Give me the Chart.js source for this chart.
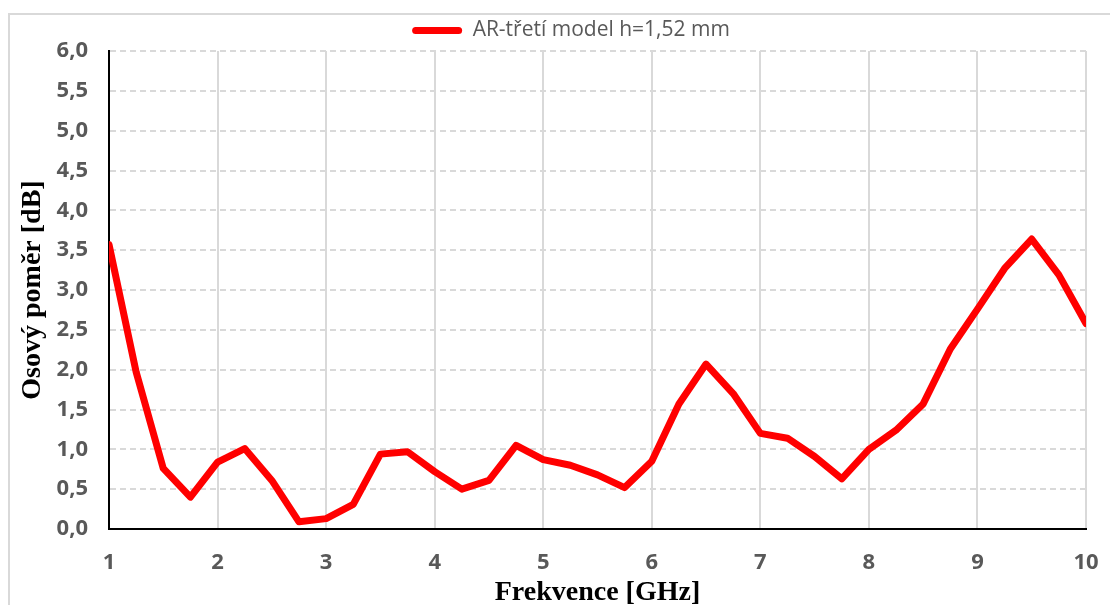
<!DOCTYPE html>
<html>
<head>
<meta charset="utf-8">
<title>Osový poměr</title>
<script src="https://cdn.jsdelivr.net/npm/chart.js@4.4.0/dist/chart.umd.min.js"></script>
<style>
  html, body { margin: 0; padding: 0; background: #fff; }
  #wrap { position: relative; width: 1110px; height: 605px; overflow: hidden; }
  #frame { position: absolute; left: 8px; top: 13px; width: 1200px; height: 700px; border: 2px solid #d9d9d9; box-sizing: border-box; }
  #arChart { position: absolute; left: 0; top: 0; }
</style>
</head>
<body>
<div id="wrap">
  <div id="frame"></div>
  <canvas id="arChart" width="1110" height="605"></canvas>
</div>
<script>
// Data
const seriesName = 'AR-třetí model h=1,52 mm';
const frequencies = [1.00, 1.25, 1.50, 1.75, 2.00, 2.25, 2.50, 2.75, 3.00, 3.25, 3.50, 3.75,
                     4.00, 4.25, 4.50, 4.75, 5.00, 5.25, 5.50, 5.75, 6.00, 6.25, 6.50, 6.75,
                     7.00, 7.25, 7.50, 7.75, 8.00, 8.25, 8.50, 8.75, 9.00, 9.25, 9.50, 9.75, 10.00];
const axialRatio = [3.57, 1.97, 0.76, 0.40, 0.84, 1.01, 0.61, 0.09, 0.13, 0.31, 0.94, 0.97,
                    0.72, 0.50, 0.61, 1.05, 0.87, 0.80, 0.68, 0.52, 0.85, 1.57, 2.07, 1.70,
                    1.20, 1.14, 0.91, 0.63, 1.00, 1.24, 1.57, 2.26, 2.76, 3.27, 3.64, 3.19, 2.58];
const xTickValues = [1, 2, 3, 4, 5, 6, 7, 8, 9, 10];
const yTickValues = [0, 0.5, 1, 1.5, 2, 2.5, 3, 3.5, 4, 4.5, 5, 5.5, 6];

const xTitle = 'Frekvence [GHz]';
const yTitle = 'Osový poměr [dB]';

// Build points for the line
const points = frequencies.map((f, i) => ({ x: f, y: axialRatio[i] }));

const tickFont = { family: 'Open Sans', size: 22, weight: 'bold' };
const titleFont = { family: 'Liberation Serif', size: 28, weight: 'bold', lineHeight: 0.9 };

// Legend is centred over the plot in the original, not over the whole canvas
const legendShift = {
    id: 'legendShift',
    afterLayout(chart) {
        const lg = chart.legend;
        if (lg) {
            lg.left += 24;
            lg.right += 24;
        }
    }
};

const ctx = document.getElementById('arChart').getContext('2d');
new Chart(ctx, {
    type: 'line',
    data: {
        datasets: [{
            label: seriesName,
            data: points,
            borderColor: '#ff0000',
            backgroundColor: '#ff0000',
            borderWidth: 7,
            borderJoinStyle: 'round',
            borderCapStyle: 'round',
            pointRadius: 0,
            tension: 0,
            fill: false
        }]
    },
    options: {
        responsive: false,
        animation: false,
        devicePixelRatio: 1,
        layout: {
            padding: { left: 8, right: 24, top: 11, bottom: 0 }
        },
        plugins: {
            tooltip: { enabled: false },
            legend: {
                display: true,
                position: 'top',
                labels: {
                    boxWidth: 50,
                    boxHeight: 7,
                    padding: 9,
                    color: '#595959',
                    font: { family: 'Open Sans', size: 21 },
                    generateLabels: () => [{
                        text: seriesName,
                        fillStyle: '#ff0000',
                        strokeStyle: '#ff0000',
                        lineWidth: 0,
                        borderRadius: 3.5,
                        fontColor: '#595959',
                        datasetIndex: 0
                    }]
                }
            }
        },
        scales: {
            x: {
                type: 'linear',
                min: 1,
                max: 10,
                afterBuildTicks: (scale) => { scale.ticks = xTickValues.map(v => ({ value: v })); },
                afterFit: (scale) => {
                    scale.height = 76;
                    // tick padding is vertical here, don't let it widen the side overhang
                    scale.paddingLeft = 13;
                    scale.paddingRight = 13;
                },
                ticks: {
                    color: '#595959',
                    font: tickFont,
                    padding: 21,
                    maxRotation: 0,
                    callback: (v) => String(v)
                },
                grid: {
                    color: (c) => (c.tick && c.tick.value === 1) ? 'rgba(0,0,0,0)' : '#d9d9d9',
                    lineWidth: 2,
                    drawTicks: false
                },
                border: { display: true, color: '#000000', width: 2 },
                title: {
                    display: true,
                    text: xTitle,
                    color: '#000000',
                    font: titleFont,
                    padding: { top: 0, bottom: 0 }
                }
            },
            y: {
                min: 0,
                max: 6,
                afterBuildTicks: (scale) => { scale.ticks = yTickValues.map(v => ({ value: v })); },
                afterFit: (scale) => { scale.width = 101; },
                ticks: {
                    color: '#595959',
                    font: tickFont,
                    padding: 21,
                    callback: (v) => v.toFixed(1).replace('.', ',')
                },
                grid: {
                    color: (c) => (c.tick && c.tick.value === 0) ? 'rgba(0,0,0,0)' : '#d9d9d9',
                    lineWidth: 2,
                    drawTicks: false
                },
                border: { display: true, color: '#000000', width: 2, dash: [6, 4] },
                title: {
                    display: true,
                    text: yTitle,
                    color: '#000000',
                    font: titleFont,
                    padding: { top: 12, bottom: 8 }
                }
            }
        }
    },
    plugins: [legendShift]
});
</script>
</body>
</html>
